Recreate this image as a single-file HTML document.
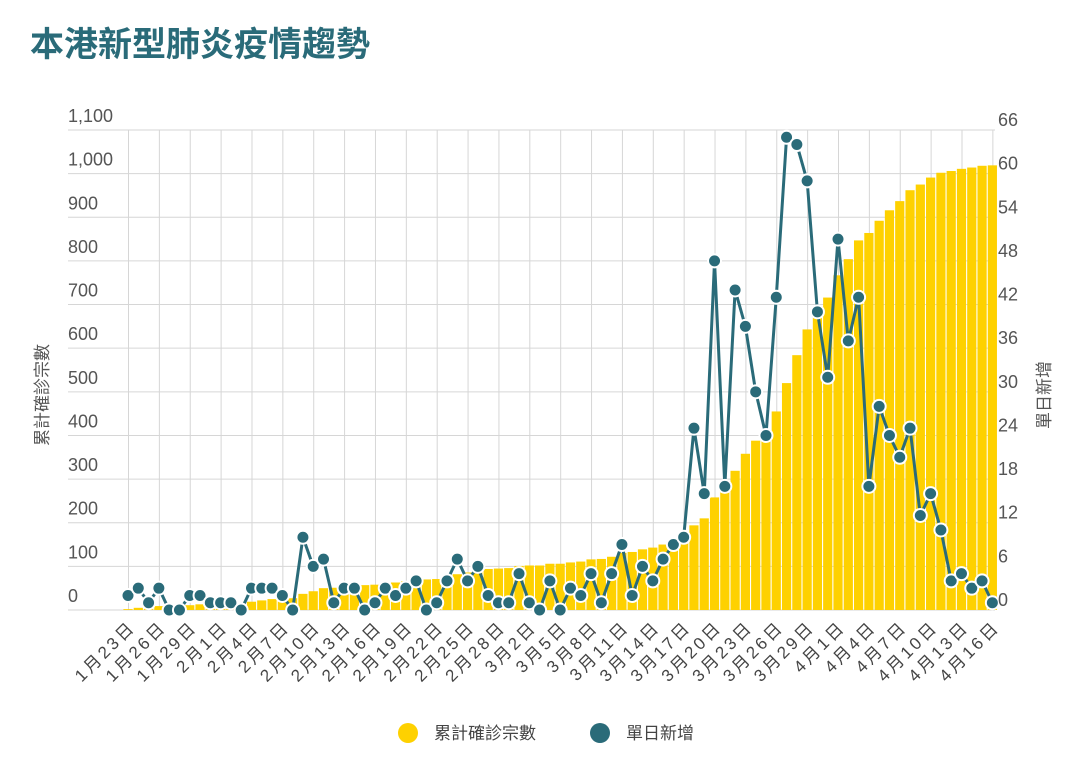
<!DOCTYPE html>
<html><head><meta charset="utf-8">
<style>
body{margin:0;background:#fff;width:1080px;height:768px;overflow:hidden;font-family:"Liberation Sans","Noto Sans CJK TC",sans-serif;}
svg{display:block}
</style></head>
<body>
<svg id="chart" width="1080" height="768" viewBox="0 0 1080 768">
<text x="30" y="56" font-size="34" font-weight="bold" fill="#2a6b79" font-family="Liberation Sans, Noto Sans CJK TC, sans-serif">本港新型肺炎疫情趨勢</text>
<g id="grid"></g>
<g id="bars"></g>
<g id="line"></g>
<g id="axes"></g>
<text transform="translate(48,395) rotate(-90)" text-anchor="middle" font-size="17" fill="#555" font-family="Liberation Sans, Noto Sans CJK TC, sans-serif">累計確診宗數</text>
<text transform="translate(1050,395) rotate(-90)" text-anchor="middle" font-size="17" fill="#555" font-family="Liberation Sans, Noto Sans CJK TC, sans-serif">單日新增</text>
<g>
<circle cx="408" cy="733" r="10" fill="#fed100"/>
<text x="434" y="739" font-size="17" fill="#444" font-family="Liberation Sans, Noto Sans CJK TC, sans-serif">累計確診宗數</text>
<circle cx="600" cy="733" r="10" fill="#2a6b79"/>
<text x="626" y="739" font-size="17" fill="#444" font-family="Liberation Sans, Noto Sans CJK TC, sans-serif">單日新增</text>
</g>
</svg>
<script>
const startMonth = [1,23];
const daily = [2,3,1,3,0,0,2,2,1,1,1,0,3,3,3,2,0,10,6,7,1,3,3,0,1,3,2,3,4,0,1,4,7,4,6,2,1,1,5,1,0,4,0,3,2,5,1,5,9,2,6,4,7,9,10,25,16,48,17,44,39,30,24,43,65,64,59,41,32,51,37,43,17,28,24,21,25,13,16,11,4,5,3,4,1];
const cumulative = [2,5,6,9,9,9,11,13,14,15,16,16,19,22,25,27,27,37,43,50,51,54,57,57,58,61,63,66,70,70,71,75,82,86,92,94,95,96,101,102,102,106,106,109,111,116,117,122,131,133,139,143,150,159,169,194,210,258,275,319,358,388,412,455,520,584,643,684,716,767,804,847,864,892,916,937,962,975,991,1002,1006,1011,1014,1018,1019];
const leftTicks = [0,100,200,300,400,500,600,700,800,900,1000,1100];
const rightTicks = [0,6,12,18,24,30,36,42,48,54,60,66];
const leftTickLabels = ["0","100","200","300","400","500","600","700","800","900","1,000","1,100"];

const NS="http://www.w3.org/2000/svg";
const X0=128, DX=10.29, Y0=610, YTOP=130;
const xScale=i=>X0+i*DX;
const yLeft=v=>Y0-(v/1100)*(Y0-YTOP);
const yRight=v=>Y0-(v/66)*(Y0-YTOP);
function mk(tag,attrs,parent){const e=document.createElementNS(NS,tag);for(const k in attrs)e.setAttribute(k,attrs[k]);parent.appendChild(e);return e;}
const font="Liberation Sans, Noto Sans CJK TC, sans-serif";
const grid=document.getElementById('grid'), bars=document.getElementById('bars'), line=document.getElementById('line'), axes=document.getElementById('axes');

const mdays={1:31,2:29,3:31,4:30};
const dates=[];let m=startMonth[0],d=startMonth[1];
for(let i=0;i<daily.length;i++){dates.push(m+"月"+d+"日");d++;if(d>mdays[m]){d=1;m++;}}

leftTicks.forEach((t,i)=>{
  const y=yLeft(t);
  const gl=mk('line',{x1:68,x2:995,y1:y,y2:y,stroke:'#d6d6d6','stroke-width':1},grid);
  
  
  const tl=mk('text',{x:68,y:y-8,'font-size':18,fill:'#555','font-family':font},axes);
  tl.textContent=leftTickLabels[i];
  
  
});
rightTicks.forEach(t=>{
  const y=yRight(t);
  const tl=mk('text',{x:998,y:y-4,'font-size':18,fill:'#555','font-family':font},axes);
  tl.textContent=String(t);
  
  
});
for(let i=0;i<daily.length;i+=3){
  const x=xScale(i)+0.5;
  const vl=mk('line',{x1:x,x2:x,y1:YTOP,y2:Y0,stroke:'#d6d6d6','stroke-width':1},grid);
  
  
  const tl=mk('text',{x:0,y:0,'font-size':17,'letter-spacing':3,fill:'#444','text-anchor':'end','font-family':font,transform:`translate(${x+8},${Y0+18}) rotate(-45)`},axes);
  tl.textContent=dates[i];
  
  
}
cumulative.forEach((v,i)=>{
  const y=yLeft(v);
  const r=mk('rect',{x:xScale(i)-4.6,y:y,width:9.2,height:Y0-y,fill:'#fed100'},bars);
  
  
});
const pts=daily.map((v,i)=>xScale(i)+','+yRight(v)).join(' ');
const pl=mk('polyline',{points:pts,fill:'none',stroke:'#2a6b79','stroke-width':3,'stroke-linejoin':'round'},line);


daily.forEach((v,i)=>{
  const c=mk('circle',{cx:xScale(i),cy:yRight(v),r:6.5,fill:'#2a6b79',stroke:'#fff','stroke-width':2},line);
  
  
});
</script>
</body></html>
